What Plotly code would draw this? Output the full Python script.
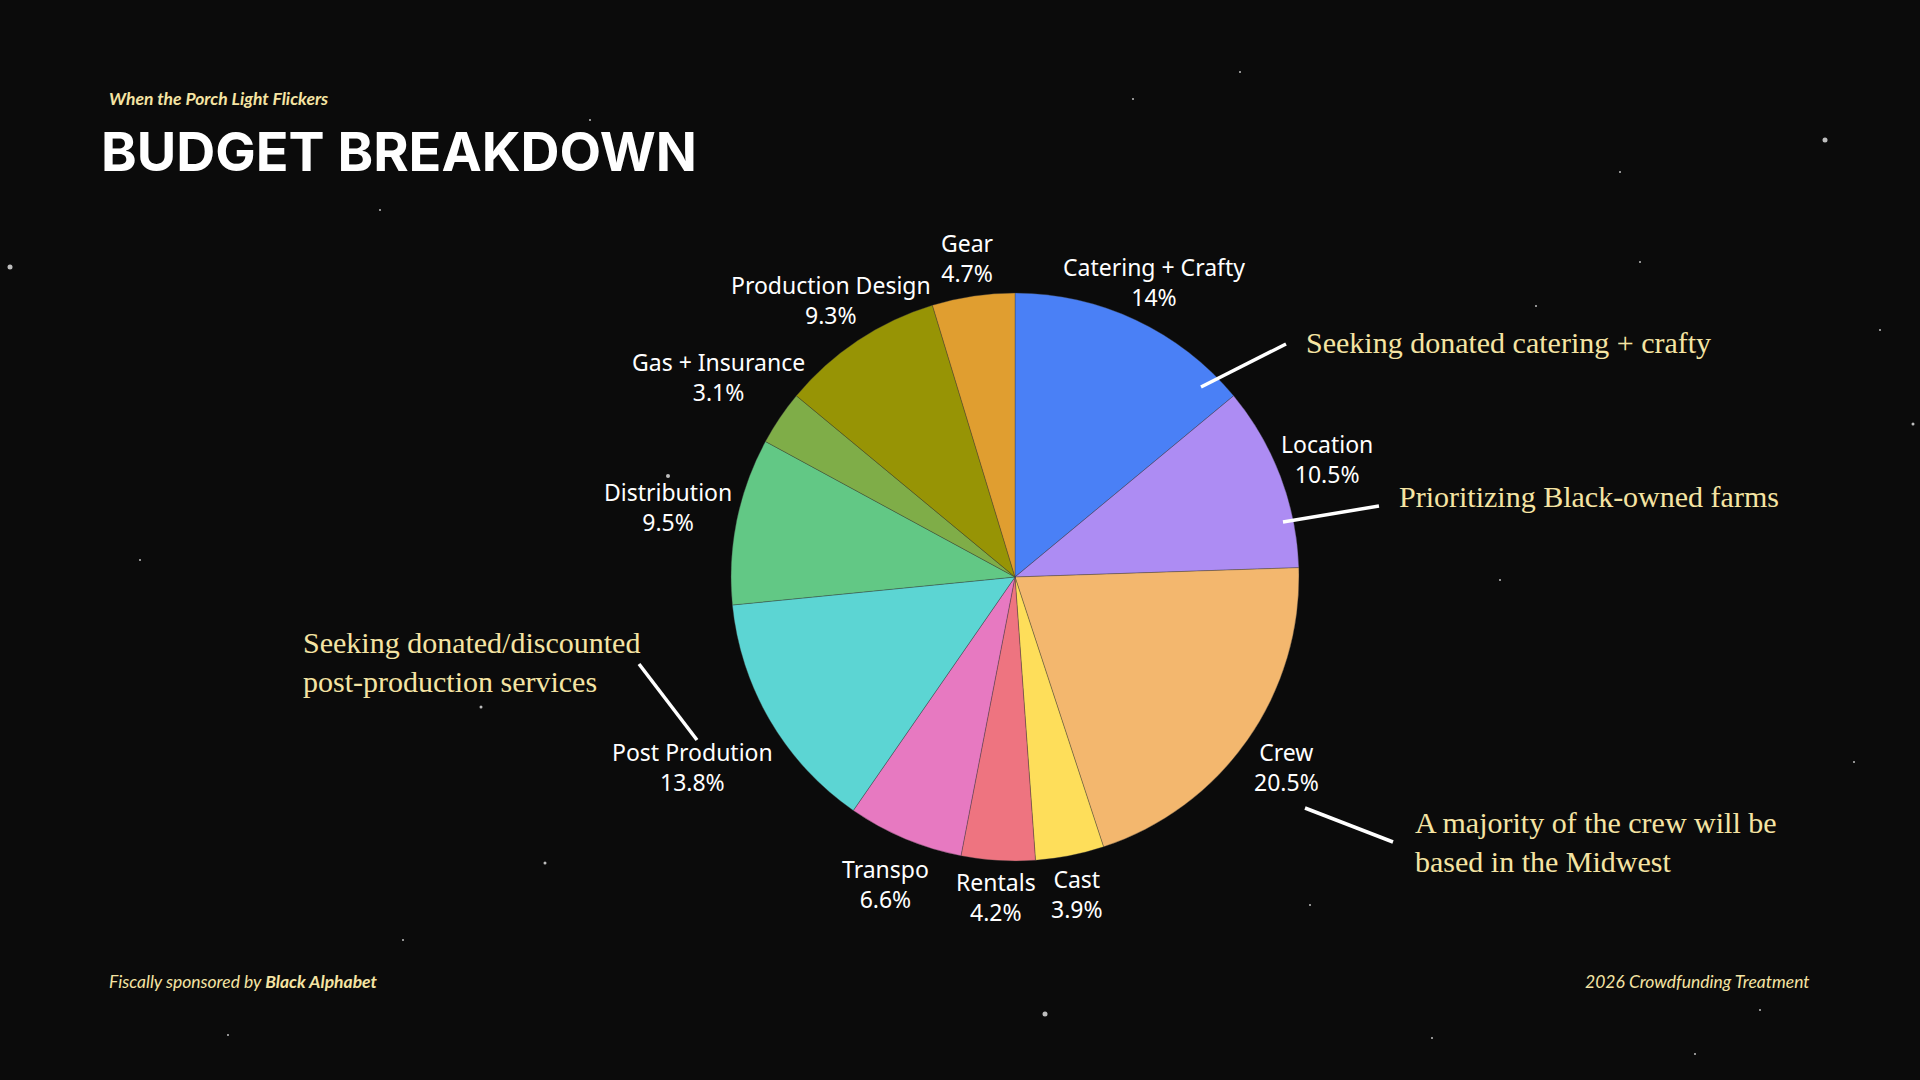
import math
import plotly.graph_objects as go

# budget share per department, clockwise from 12 o'clock
categories = ["Catering + Crafty", "Location", "Crew", "Cast", "Rentals", "Transpo",
              "Post Prodution", "Distribution", "Gas + Insurance", "Production Design", "Gear"]
shares = [14, 10.5, 20.5, 3.9, 4.2, 6.6, 13.8, 9.5, 3.1, 9.3, 4.7]
slice_colors = ["#4a80f6", "#ad8cf3", "#f3b76e", "#fede5a", "#ee7480", "#e779c1",
                "#5cd5d3", "#62c885", "#7fad48", "#979405", "#e09e30"]

# side notes: text, where the text sits, where its pointer line runs (pixels)
notes = [
    ("Seeking donated catering + crafty", (1304, 342), (1201, 387, 1286, 344)),
    ("Prioritizing Black-owned farms", (1397, 496), (1283, 522, 1379, 506)),
    ("A majority of the crew will be<br>based in the Midwest", (1413, 842), (1305, 808, 1393, 842)),
    ("Seeking donated/discounted<br>post-production services", (301, 662), (639, 664, 697, 740)),
]

# a few of the brighter stars in the backdrop (pixels, size)
stars = [(1825, 140, 5), (10, 267, 5), (1045, 1014, 5), (545, 863, 3), (668, 476, 4),
         (481, 707, 3), (1913, 424, 3), (1133, 99, 2), (1695, 1054, 2), (1854, 762, 2),
         (268, 982, 2), (1432, 1038, 2), (1620, 172, 2), (1240, 72, 2), (1500, 580, 2),
         (380, 210, 2), (140, 560, 2), (1760, 1010, 2), (590, 120, 2), (1880, 330, 2),
         (1310, 905, 2), (1640, 262, 2), (1536, 306, 2), (403, 940, 2), (228, 1035, 2)]

W, H = 1920, 1080
CREAM = "#f5e4a3"
LABEL_SIZE = 23

# rough advance widths (per 1000 em) of Noto Sans, used to keep the
# slice labels clear of the pie edge
glyph_w = {" ": 260, "+": 572, "%": 823, ".": 266, "C": 632, "D": 730, "G": 725, "I": 279,
           "L": 518, "P": 585, "R": 599, "S": 549, "T": 553, "a": 556, "b": 613, "c": 476,
           "d": 613, "e": 561, "f": 336, "g": 547, "i": 258, "l": 258, "n": 613, "o": 601,
           "p": 613, "r": 408, "s": 477, "t": 352, "u": 613, "w": 815, "y": 500}


def text_w(s, size):
    return sum(glyph_w.get(ch, 572 if ch.isdigit() else 560) for ch in s) * size / 1000


def px(x):
    return x / W


def py(y):
    return 1 - y / H


# pie centre and radius in pixels
cx, cy, r = 1015, 577, 284


def box_dist(x0, x1, y0, y1):
    # distance from pie centre to the nearest point of a box
    nx = min(max(cx, x0), x1)
    ny = min(max(cy, y0), y1)
    return math.hypot(nx - cx, ny - cy)


def label_spot(lines, theta):
    # push the label out along the slice's mid angle until every line clears the rim
    ux, uy = math.sin(theta), -math.cos(theta)
    lh = 1.3 * LABEL_SIZE
    half = 12
    d = r
    while True:
        lx, ly = cx + d * ux, cy + d * uy
        ok = True
        for j, s in enumerate(lines):
            w = text_w(s, LABEL_SIZE)
            yc = ly + (j - (len(lines) - 1) / 2) * lh
            if box_dist(lx - w / 2, lx + w / 2, yc - half, yc + half) < r + 8.5:
                ok = False
                break
        if ok:
            return lx, ly
        d += 0.5


fig = go.Figure()
fig.add_trace(go.Pie(
    labels=categories,
    values=shares,
    textinfo="none",
    sort=False,
    direction="clockwise",
    rotation=0,
    marker=dict(colors=slice_colors, line=dict(color="rgba(60,60,60,0.6)", width=0.6)),
    domain=dict(x=[px(cx - r), px(cx + r)], y=[py(cy + r), py(cy - r)]),
    showlegend=False,
    hoverinfo="label+percent",
))

shapes = []
for sx, sy, s in stars:
    shapes.append(dict(type="circle", xref="paper", yref="paper",
                       x0=px(sx - s / 2), x1=px(sx + s / 2), y0=py(sy + s / 2), y1=py(sy - s / 2),
                       fillcolor="rgba(235,235,235,0.8)", line=dict(width=0), layer="below"))

annotations = []

# slice labels
total = sum(shares)
acc = 0
for cat, v in zip(categories, shares):
    theta = 2 * math.pi * (acc + v / 2) / total
    acc += v
    lines = [cat, f"{v:g}%"]
    lx, ly = label_spot(lines, theta)
    annotations.append(dict(text="<br>".join(lines), x=px(lx), y=py(ly), xref="paper", yref="paper",
                            xanchor="center", yanchor="middle", align="center", showarrow=False,
                            font=dict(family="Noto Sans", size=LABEL_SIZE, color="white")))

for text, (tx, ty), (x0, y0, x1, y1) in notes:
    annotations.append(dict(text=text, x=px(tx), y=py(ty), xref="paper", yref="paper",
                            xanchor="left", yanchor="middle", align="left", showarrow=False,
                            font=dict(family="Liberation Serif", size=30, color=CREAM)))
    shapes.append(dict(type="line", xref="paper", yref="paper",
                       x0=px(x0), y0=py(y0), x1=px(x1), y1=py(y1),
                       line=dict(color="white", width=3.5)))

annotations += [
    dict(text="<b><i>When the Porch Light Flickers</i></b>", x=px(107), y=py(98),
         xref="paper", yref="paper", xanchor="left", yanchor="middle", showarrow=False,
         font=dict(family="Lato", size=17.5, color=CREAM)),
    dict(text="<b>BUDGET BREAKDOWN</b>", x=px(99), y=py(151),
         xref="paper", yref="paper", xanchor="left", yanchor="middle", showarrow=False,
         font=dict(family="Inter", size=54, color="white")),
    dict(text="<i>Fiscally sponsored by <b>Black Alphabet</b></i>", x=px(107), y=py(981),
         xref="paper", yref="paper", xanchor="left", yanchor="middle", showarrow=False,
         font=dict(family="Lato", size=17.5, color=CREAM)),
    dict(text="<i>2026 Crowdfunding Treatment</i>", x=px(1812), y=py(981),
         xref="paper", yref="paper", xanchor="right", yanchor="middle", showarrow=False,
         font=dict(family="Lato", size=17.5, color=CREAM)),
]

fig.update_layout(
    width=W, height=H,
    margin=dict(l=0, r=0, t=0, b=0),
    paper_bgcolor="#0b0b0b",
    plot_bgcolor="#0b0b0b",
    shapes=shapes,
    annotations=annotations,
)

fig.write_html("out.html", config={"displayModeBar": False},
               post_script="document.body.style.margin='0';document.body.style.overflow='hidden';"
                           "document.body.style.background='#0b0b0b';")
